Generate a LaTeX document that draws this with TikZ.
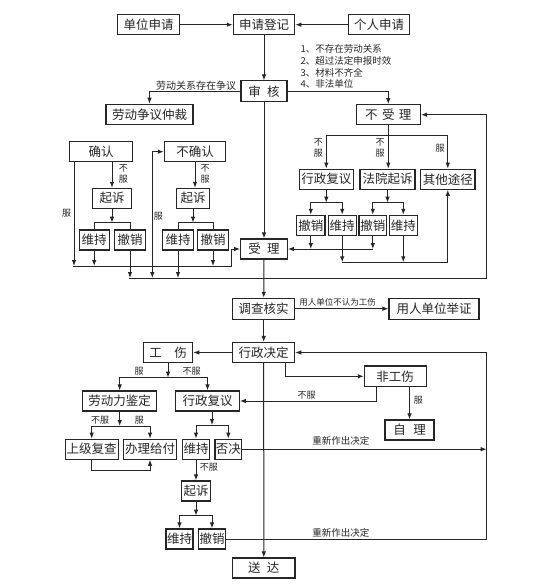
\documentclass[tikz,border=0pt]{standalone}
\usepackage{fontspec}
\newfontfamily\cjk{Noto Sans CJK SC}
\usetikzlibrary{arrows.meta,calc}
\begin{document}
\begin{tikzpicture}[x=1pt,y=-1pt,
  line width=1pt, color=black!85,
  box/.style={draw, line width=1.1pt, inner sep=0pt, minimum height=20pt,
    font=\cjk\fontsize{12.5}{14}\selectfont},
  wd/.style={minimum width=#1pt},
  lbl/.style={inner sep=0pt, font=\cjk\fontsize{9}{11}\selectfont, align=center},
  arr/.style={-{Latex[length=6pt,width=4.5pt]}},
  arrb/.style={{Latex[length=6pt,width=4.5pt]}-{Latex[length=6pt,width=4.5pt]}},
]
\fill[white] (0,0) rectangle (550,588);
\useasboundingbox (0,0) rectangle (550,588);

% boxes
\node[box,wd=62] (dwsq) at (148.6,24.7) {单位申请};
\node[box,wd=61.4] (sqdj) at (264,24.7) {申请登记};
\node[box,wd=61.4] (grsq) at (379,24.7) {个人申请};
\node[box,wd=46,minimum height=20.7pt] (sh) at (264,91.3) {审\hspace{0.5em}核};
\node[box,wd=87] (ldzy) at (149.5,114.3) {劳动争议仲裁};
\node[box,wd=64.5] (bsl) at (388.3,114.7) {不\hspace{0.35em}受\hspace{0.35em}理};
\node[box,wd=63.4] (qr) at (101,151.7) {确认};
\node[box,wd=61.4] (bqr) at (195,151.7) {不确认};
\node[box,wd=39.4] (qs1) at (112,198.3) {起诉};
\node[box,wd=32.6] (qs2) at (193,198.3) {起诉};
\node[box,wd=30.3] (wc1) at (94.2,240) {维持};
\node[box,wd=31.4] (cx1) at (130,240) {撤销};
\node[box,wd=30.6] (wc2) at (178,240) {维持};
\node[box,wd=30.6] (cx2) at (213,240) {撤销};
\node[box,wd=46.6] (sl) at (264,249) {受\hspace{0.5em}理};
\node[box,wd=54] (xzfy1) at (326.3,179.2) {行政复议};
\node[box,wd=55] (fyqs) at (387.5,179.2) {法院起诉};
\node[box,wd=54.3] (qttj) at (447.8,179.2) {其他途径};
\node[box,wd=28.3] (cx3) at (310.8,225.3) {撤销};
\node[box,wd=27.7] (wc3) at (342.2,225.3) {维持};
\node[box,wd=27.7] (cx4) at (372.8,225.3) {撤销};
\node[box,wd=28] (wc4) at (403.3,225.3) {维持};
\node[box,wd=62,minimum height=20.7pt] (dchs) at (263.7,308.7) {调查核实};
\node[box,wd=90,minimum height=20.7pt] (yrjz) at (434,308.7) {用人单位举证};
\node[box,wd=62] (xzjd) at (263.7,352.5) {行政决定};
\node[box,wd=49.4] (gs) at (168,352.5) {工\hspace{1em}伤};
\node[box,wd=61.7,minimum height=20.7pt] (fgs) at (395.2,376.3) {非工伤};
\node[box,wd=49] (zl) at (409.5,430) {自\hspace{0.6em}理};
\node[box,wd=74] (ldljd) at (119.7,401) {劳动力鉴定};
\node[box,wd=63.6] (xzfy2) at (207.5,401) {行政复议};
\node[box,wd=53.3] (sjfc) at (91.7,449.2) {上级复查};
\node[box,wd=53.4] (blgf) at (150,449.2) {办理给付};
\node[box,wd=26.6] (wc5) at (196,449.2) {维持};
\node[box,wd=26.7] (fj) at (228.3,449.2) {否决};
\node[box,wd=28.7] (qs3) at (196,491) {起诉};
\node[box,wd=27] (wc6) at (179.5,539) {维持};
\node[box,wd=27] (cx6) at (212,539) {撤销};
\node[box,wd=62.4] (sd) at (263.8,568) {送\hspace{0.5em}达};

% labels
\node[lbl,anchor=west,font=\cjk\fontsize{9.5}{11}\selectfont] (n1) at (300,49.3) {1、不存在劳动关系};
\node[lbl,anchor=west,font=\cjk\fontsize{9.5}{11}\selectfont] (n2) at (300,61) {2、超过法定申报时效};
\node[lbl,anchor=west,font=\cjk\fontsize{9.5}{11}\selectfont] (n3) at (300,72.7) {3、材料不齐全};
\node[lbl,anchor=west,font=\cjk\fontsize{9.5}{11}\selectfont] (n4) at (300,84.3) {4、非法单位};
\node[lbl,font=\cjk\fontsize{10}{11}\selectfont] (lzy) at (196,86) {劳动关系存在争议};
\node[lbl] (lf1) at (66.7,213.3) {服};
\node[lbl] (lbf1) at (123.3,174) {不\\服};
\node[lbl] (lf2) at (158.3,216) {服};
\node[lbl] (lbf2) at (205,174) {不\\服};
\node[lbl] (lbf3) at (318.3,148) {不\\服};
\node[lbl] (lbf4) at (380,148) {不\\服};
\node[lbl] (lf3) at (440,148.3) {服};
\node[lbl,font=\cjk\fontsize{8.5}{10}\selectfont] (lgs) at (337.7,302.3) {用人单位不认为工伤};
\node[lbl] (lf4) at (139,371.7) {服};
\node[lbl] (lbf5) at (191.7,371.7) {不服};
\node[lbl] (lbf6) at (100,420) {不服};
\node[lbl] (lf5) at (139.3,420) {服};
\node[lbl] (lf6) at (418.3,400.7) {服};
\node[lbl] (lbf7) at (306.7,395.7) {不服};
\node[lbl] (lbf8) at (208.8,467.3) {不服};
\node[lbl,font=\cjk\fontsize{9.5}{11}\selectfont] (lcx1) at (340.8,441) {重新作出决定};
\node[lbl,font=\cjk\fontsize{9.5}{11}\selectfont] (lcx2) at (340.8,533.3) {重新作出决定};

% coordinates
\coordinate (j1) at (112,222.7);
\coordinate (j2) at (193,222.7);
\coordinate (j3) at (388.3,136);
\coordinate (j4) at (326.3,202.7);
\coordinate (j5) at (387.5,202.7);
\coordinate (j6) at (168,377.7);
\coordinate (j7) at (119.7,426);
\coordinate (j8) at (212,425);
\coordinate (j9) at (196,515.7);
\coordinate (L1s) at (72.7,266);
\coordinate (L1e) at (231.7,266);
\coordinate (L2s) at (129,278);
\coordinate (L2e) at (486.7,278);
\coordinate (bqrb) at (152.3,278);
\coordinate (R2) at (0,262.3);
\coordinate (sjb) at (0,470);
\coordinate (lx) at (486.7,539.3);
\coordinate (qrl) at ([xshift=-27pt]qr.south);

% connectors
\draw[arr] (dwsq.east) -- (sqdj.west);
\draw[arr] (grsq.west) -- (sqdj.east);
\draw[arr] (sqdj.south) -- (sh.north);
\draw[arr] (sh.west) -| (ldzy.north);
\draw[arr] (sh.east) -| (bsl.north);
\draw[arr] (sh.south) -- (sl.north);

\draw[arr] (qs1.north |- qr.south) -- (qs1.north);
\draw[arr] (qrl) -- (qrl |- L1s);
\draw[arr] (qs1.south) -- (j1);
\draw (wc1.north) |- (j1) -| (cx1.north);
\draw[arr] (wc1.south) -- (wc1.south |- L1s);
\draw[arr] (cx1.south) -- (cx1.south |- L2s);

\draw[arrb] (bqr.west) -| (bqrb);
\draw[arr] (bqr.south) -- (bqr.south |- qs2.north);
\draw[arr] (qs2.south) -- (j2);
\draw (wc2.north) |- (j2) -| (cx2.north);
\draw[arr] (wc2.south) -- (wc2.south |- L2s);
\draw[arr] (cx2.south) -- (cx2.south |- L1s);

\draw[arr] (L1s) -- (L1e) |- (sl.west);
\draw[arr] (L2s) -- (L2e) |- (bsl.east);

\draw (bsl.south) -- (j3);
\draw[arr] (j3) -| (xzfy1.north);
\draw[arr] (j3) -| (qttj.north);
\draw[arr] (j3) -- (j3 |- fyqs.north);
\draw[arr] (xzfy1.south) -- (j4);
\draw[arr] (j4) -| (cx3.north);
\draw[arr] (j4) -| (wc3.north);
\draw[arr] (fyqs.south) -- (j5);
\draw[arr] (j5) -| (cx4.north);
\draw[arr] (j5) -| (wc4.north);
\draw[arr] (cx3.south) -- (cx3.south |- sl.east);
\draw[arr] (cx4.south) -- (cx4.south |- sl.east);
\draw[arr] (cx4.south |- sl.east) -- (sl.east);
\draw[arr] (wc3.south) -- (wc3.south |- R2);
\draw[arr] (wc4.south) -- (wc4.south |- R2);
\draw[arr] (wc3.south |- R2) -| (qttj.south);

\draw[arr] (sl.south) -- (dchs.north);
\draw[arr] (dchs.east) -- (yrjz.west);
\draw[arr] (dchs.south) -- (xzjd.north);
\draw[arr] (xzjd.west) -- (gs.east);
\draw[arr] (gs.south) -- (j6);
\draw[arr] (j6) -| (ldljd.north);
\draw[arr] (j6) -| (xzfy2.north);
\draw[arr] (ldljd.south) -- (j7);
\draw[arr] (j7) -| (sjfc.north);
\draw[arr] (j7) -| (blgf.north);
\draw[arr] (xzfy2.south -| j8) -- (j8);
\draw[arr] (j8) -| (wc5.north);
\draw[arr] (j8) -| (fj.north);
\draw[arr] (sjfc.south) -- (sjfc.south |- sjb) -| (blgf.south);
\draw[arr] (wc5.south) -- (qs3.north);
\draw[arr] (qs3.south) -- (j9);
\draw[arr] (j9) -| (wc6.north);
\draw[arr] (j9) -| (cx6.north);
\draw[arr] (fj.east) -- (fj.east -| lx);
\draw[arr] (cx6.east) -- (cx6.east -| lx) -- (lx |- xzjd.east) -- (xzjd.east);
\draw[arr] ([xshift=21.3pt]xzjd.south) |- (fgs.west);
\draw[arr] (zl.north |- fgs.south) -- (zl.north);
\draw[arr] ([xshift=-19.2pt]fgs.south) |- (xzfy2.east);
\draw[arr] (xzjd.south) -- (sd.north);
\end{tikzpicture}
\end{document}
